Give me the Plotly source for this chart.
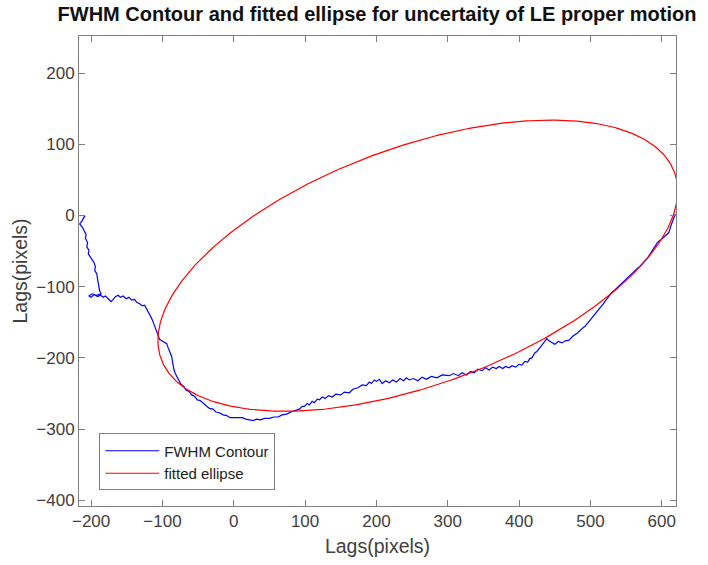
import numpy as np
import plotly.graph_objects as go

# FWHM contour (blue)
contour_x = [-211, -209, -213, -216, -212, -210, -207, -208, -205, -206,
             -203, -204, -200, -198, -196, -194, -195, -192, -191, -190,
             -189, -188, -186, -192, -199, -203, -200, -196, -191, -187,
             -183, -180, -176, -172, -169, -166, -162, -159, -155, -151,
             -147, -143, -139, -136, -132, -128, -125, -122, -119, -117,
             -114, -112, -110, -108, -106, -104, -101, -97, -94, -92,
             -89, -87, -86, -85, -84, -82, -79, -77, -74, -70,
             -67, -63, -59, -55, -51, -47, -42, -38, -34, -29,
             -25, -20, -15, -10, -5, 0, 6, 12, 17, 22,
             27, 32, 37, 43, 50, 56, 62, 68, 74, 80,
             86, 92, 96, 99, 103, 106, 110, 113, 117, 120,
             124, 128, 133, 138, 143, 150, 155, 162, 167, 174,
             180, 186, 190, 193, 197, 200, 204, 208, 213, 218,
             223, 228, 233, 238, 242, 246, 252, 258, 264, 270,
             277, 285, 292, 302, 308, 315, 320, 326, 332, 337,
             342, 348, 353, 358, 363, 368, 372, 377, 381, 386,
             390, 395, 400, 404, 408, 412, 415, 418, 422, 425,
             429, 433, 436, 439, 442, 446, 450, 455, 460, 465,
             470, 476, 482, 487, 492, 497, 502, 507, 512, 518,
             524, 530, 535, 540, 545, 550, 555, 560, 565, 570,
             575, 580, 585, 590, 594, 600, 605, 610, 613, 616,
             618, 619]
contour_y = [0, -1, -8, -12, -17, -22, -27, -32, -38, -44,
             -49, -54, -59, -63, -66, -72, -77, -82, -89, -95,
             -101, -106, -110, -112, -110, -113, -115, -111, -114, -112,
             -115, -113, -117, -121, -118, -114, -112, -115, -113, -117,
             -115, -119, -118, -122, -124, -127, -126, -131, -137, -141,
             -147, -152, -158, -163, -169, -174, -176, -179, -180, -186,
             -192, -198, -205, -211, -216, -222, -228, -232, -237, -240,
             -245, -247, -252, -254, -259, -260, -265, -268, -271, -272,
             -276, -277, -280, -281, -284, -284, -285, -284, -286, -287,
             -288, -286, -287, -285, -285, -283, -283, -280, -279, -276,
             -274, -272, -268, -268, -264, -266, -261, -263, -258, -259,
             -255, -257, -253, -255, -251, -252, -248, -249, -244, -242,
             -238, -239, -234, -236, -231, -233, -230, -236, -232, -235,
             -231, -234, -229, -232, -228, -231, -229, -232, -227, -230,
             -226, -228, -224, -225, -222, -225, -221, -224, -219, -221,
             -216, -218, -214, -217, -213, -215, -212, -215, -212, -214,
             -211, -213, -209, -210, -205, -206, -201, -200, -193, -191,
             -186, -181, -176, -173, -176, -178, -181, -177, -179, -176,
             -175, -169, -165, -160, -156, -150, -144, -138, -132, -124,
             -116, -108, -104, -99, -94, -90, -84, -80, -75, -71,
             -66, -60, -52, -44, -38, -33, -29, -24, -14, -6,
             -1, 2]

# fitted ellipse parameters (center, semi-axes, tilt of major axis)
ellipse_cx = 258.0
ellipse_cy = -70.5
ellipse_a = 383.0
ellipse_b = 167.0
ellipse_tilt_deg = 20.0

x_range = [-217, 620]
y_range = [-408, 252]
x_ticks = [-200, -100, 0, 100, 200, 300, 400, 500, 600]
y_ticks = [-400, -300, -200, -100, 0, 100, 200]

th = np.radians(ellipse_tilt_deg)
t = np.linspace(0, 2 * np.pi, 500)
ell_x = ellipse_cx + ellipse_a * np.cos(t) * np.cos(th) - ellipse_b * np.sin(t) * np.sin(th)
ell_y = ellipse_cy + ellipse_a * np.cos(t) * np.sin(th) + ellipse_b * np.sin(t) * np.cos(th)

FONT = "Liberation Sans, Arial, Helvetica, sans-serif"

fig = go.Figure()
fig.add_trace(go.Scatter(x=contour_x, y=contour_y, mode="lines", name="FWHM Contour",
                         line=dict(color="#0000ff", width=1.2)))
fig.add_trace(go.Scatter(x=ell_x, y=ell_y, mode="lines", name="fitted ellipse",
                         line=dict(color="#ff0000", width=1.2)))

axis_common = dict(showline=True, linecolor="#808080", linewidth=1, mirror="ticks", ticks="inside",
                   ticklen=6, tickcolor="#808080", showgrid=False, zeroline=False,
                   tickfont=dict(family=FONT, size=17, color="#404040"))
fig.update_xaxes(range=x_range, tickvals=x_ticks, title=dict(text="Lags(pixels)", standoff=8,
                 font=dict(family=FONT, size=19.5, color="#404040")), **axis_common)
fig.update_yaxes(range=y_range, tickvals=y_ticks, title=dict(text="Lags(pixels)", standoff=3,
                 font=dict(family=FONT, size=19.5, color="#404040")), **axis_common)
fig.update_layout(
    width=708, height=565,
    margin=dict(l=79, r=32, t=36, b=59),
    paper_bgcolor="white", plot_bgcolor="white",
    title=dict(text="<b>FWHM Contour and fitted ellipse for uncertaity of LE proper motion</b>",
               x=0.5325, xanchor="center", y=0.975, yanchor="middle",
               font=dict(family=FONT, size=20.0, color="#111111")),
    legend=dict(x=0.034, y=0.033, xanchor="left", yanchor="bottom", bgcolor="white",
                bordercolor="#808080", borderwidth=1, itemwidth=54,
                font=dict(family=FONT, size=15, color="#222222"),
                tracegroupgap=0),
    showlegend=True,
)
fig.write_html("out.html")
